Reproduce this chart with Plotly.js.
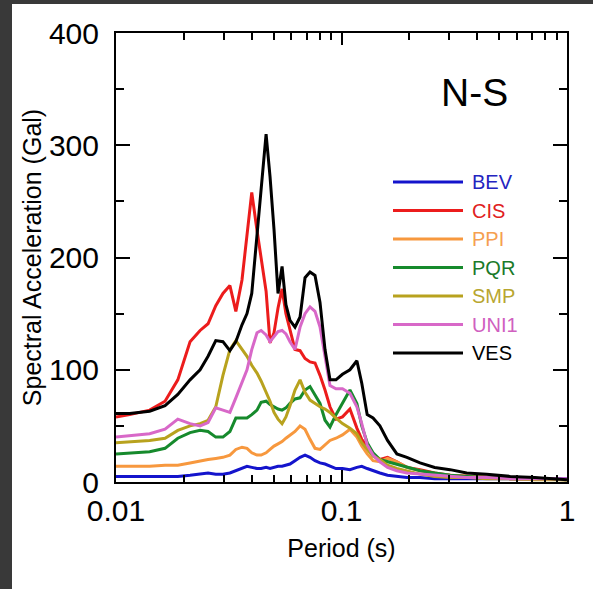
<!DOCTYPE html>
<html>
<head>
<meta charset="utf-8">
<script src="https://cdn.plot.ly/plotly-3.0.1.min.js"></script>
<style>
  html, body { margin: 0; padding: 0; background: #393939; width: 593px; height: 589px; overflow: hidden; }
  #chart { position: absolute; left: 12px; top: 4px; width: 581px; height: 585px; background: #ffffff; }
</style>
</head>
<body>
<div id="chart"></div>
<script>
// Period (s)
const period = [0.0100, 0.0115, 0.0141, 0.0165, 0.0188, 0.0213, 0.0236, 0.0256, 0.0277, 0.0298,
  0.0320, 0.0340, 0.0362, 0.0381, 0.0400, 0.0422, 0.0440, 0.0463, 0.0482, 0.0502,
  0.0523, 0.0545, 0.0567, 0.0591, 0.0622, 0.0655, 0.0689, 0.0725, 0.0763, 0.0803,
  0.0845, 0.0889, 0.0945, 0.101, 0.109, 0.117, 0.123, 0.130, 0.138, 0.148,
  0.160, 0.176, 0.195, 0.223, 0.259, 0.303, 0.359, 0.44, 0.56, 0.72, 1.0];

// Spectral acceleration (Gal)
const BEV = [5, 5, 5, 5, 5, 6, 7, 8, 7, 7,
  8, 10, 12, 14, 13, 12, 12, 13, 12, 13,
  14, 14, 15, 16, 19, 22, 24, 22, 19, 17,
  16, 14, 12, 12, 11, 13, 14, 12, 10, 8,
  6, 5, 4, 4, 3, 3, 3, 3, 3, 3, 3];
const CIS = [58, 60, 64, 72, 91, 125, 135, 141, 157, 168,
  175, 152, 180, 218, 258, 224, 200, 170, 124, 133,
  155, 172, 150, 135, 118, 117, 110, 107, 106, 95,
  82, 67, 56, 58, 65, 48, 38, 32, 24, 20,
  22, 18, 13, 11, 8, 6, 5, 4, 3, 3, 2];
const PPI = [14, 14, 14, 15, 15, 17, 19, 20, 21, 22,
  24, 29, 31, 30, 26, 24, 24, 26, 29, 32,
  34, 36, 39, 42, 45, 50, 47, 38, 30, 29,
  33, 37, 39, 42, 47, 40, 32, 25, 19, 18,
  21, 18, 13, 10, 7, 6, 5, 4, 3, 3, 2];
const PQR = [25, 26, 27, 30, 39, 44, 46, 45, 40, 40,
  45, 57, 57, 57, 60, 64, 71, 72, 69, 67,
  65, 64, 66, 70, 74, 75, 82, 85, 78, 70,
  55, 49, 60, 70, 82, 70, 50, 35, 26, 20,
  18, 16, 13, 10, 8, 6, 5, 4, 3, 3, 2];
const SMP = [35, 36, 37, 39, 46, 50, 52, 55, 67, 95,
  118, 126, 118, 112, 104, 97, 90, 80, 72, 62,
  56, 52, 58, 68, 82, 91, 80, 73, 70, 67,
  65, 62, 57, 52, 48, 43, 35, 29, 23, 20,
  15, 12, 10, 7, 5, 4, 4, 3, 3, 2, 2];
const UNI1 = [40, 41, 43, 47, 56, 52, 50, 53, 66, 64,
  62, 75, 88, 100, 118, 133, 135, 131, 125, 130,
  134, 135, 132, 125, 118, 138, 150, 156, 152, 138,
  110, 86, 83, 83, 79, 67, 52, 33, 24, 18,
  13, 10, 8, 7, 6, 5, 4, 4, 3, 3, 3];
const VES = [61, 61, 63, 68, 78, 91, 100, 112, 126, 125,
  117, 125, 140, 150, 168, 220, 265, 310, 272, 225,
  168, 192, 158, 144, 138, 147, 182, 187, 184, 160,
  118, 91, 91, 96, 100, 108, 88, 60, 57, 50,
  37, 25, 22, 17, 13, 11, 8, 7, 5, 4, 2];

const stations = ['BEV', 'CIS', 'PPI', 'PQR', 'SMP', 'UNI1', 'VES'];
const seriesValues = [BEV, CIS, PPI, PQR, SMP, UNI1, VES];
const lineColors = ['#1414cc', '#ec1c1c', '#f7983e', '#168a2c', '#b8a21e', '#d868c8', '#000000'];
const textColors = ['#2424c0', '#e02020', '#f5a050', '#1a7a2a', '#b8a630', '#d060c0', '#000000'];

const FONT = 'Liberation Sans, Arial, sans-serif';

const traces = stations.map((name, i) => ({
  type: 'scatter',
  mode: 'lines',
  name: name,
  x: period,
  y: seriesValues[i],
  line: { color: lineColors[i], width: 3 },
  showlegend: false,
  hoverinfo: 'skip'
}));

// Manual legend (long line samples + coloured labels), in paper coordinates
const plotW = 451, plotH = 449;
const legLineX0 = (393 - 116) / plotW, legLineX1 = (463 - 116) / plotW, legTextX = (470 - 116) / plotW;
const legTop = 182, legStep = 28.5;
const shapes = [];
const annotations = [];
stations.forEach((name, i) => {
  const yp = (482 - (legTop + i * legStep)) / plotH;
  shapes.push({ type: 'line', xref: 'paper', yref: 'paper', x0: legLineX0, x1: legLineX1, y0: yp, y1: yp,
    line: { color: lineColors[i], width: 3 } });
  annotations.push({ xref: 'paper', yref: 'paper', x: legTextX, y: yp, xanchor: 'left', yanchor: 'middle',
    text: name, showarrow: false, font: { family: FONT, size: 20, color: textColors[i] } });
});
annotations.push({ xref: 'paper', yref: 'paper', x: (474 - 116) / plotW, y: (482 - 93) / plotH,
  xanchor: 'center', yanchor: 'middle', text: 'N-S', showarrow: false,
  font: { family: FONT, size: 39, color: '#000000' } });

const layout = {
  width: 581, height: 585,
  margin: { l: 104, r: 26, t: 29, b: 107 },
  paper_bgcolor: '#ffffff', plot_bgcolor: '#ffffff',
  showlegend: false,
  font: { family: FONT, color: '#000000' },
  xaxis: {
    type: 'log', range: [-2, 0], dtick: 1,
    showline: true, linewidth: 2, linecolor: '#000', mirror: 'ticks',
    ticks: 'inside', ticklen: 12, tickwidth: 2, tickcolor: '#000',
    minor: { ticks: 'inside', ticklen: 7, tickwidth: 2, tickcolor: '#000', dtick: 'D1', showgrid: false },
    showgrid: false, zeroline: false,
    ticklabelstandoff: 1,
    tickfont: { family: FONT, size: 30, color: '#000' },
    title: { text: 'Period (s)', font: { family: FONT, size: 25, color: '#000' }, standoff: 13 }
  },
  yaxis: {
    range: [0, 400], dtick: 100,
    showline: true, linewidth: 2, linecolor: '#000', mirror: 'ticks',
    ticks: 'inside', ticklen: 14, tickwidth: 2, tickcolor: '#000',
    minor: { ticks: 'inside', ticklen: 8, tickwidth: 2, tickcolor: '#000', dtick: 50, showgrid: false },
    showgrid: false, zeroline: false,
    ticklabelstandoff: 9,
    tickfont: { family: FONT, size: 30, color: '#000' },
    title: { text: 'Spectral Acceleration (Gal)', font: { family: FONT, size: 25, color: '#000' }, standoff: 0 }
  },
  shapes: shapes,
  annotations: annotations
};

Plotly.newPlot('chart', traces, layout, { staticPlot: true, displayModeBar: false });
</script>
</body>
</html>
